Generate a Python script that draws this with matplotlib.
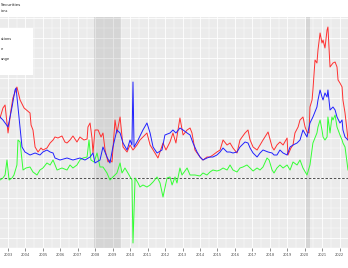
import matplotlib
matplotlib.use("Agg")
import matplotlib.pyplot as plt
from matplotlib.ticker import MultipleLocator
from matplotlib.patches import Rectangle

# ---- data (decimal year, value) ----
red_x = [2002.54,2002.71,2002.83,2003.00,2003.17,2003.28,2003.51,2003.69,2003.92,2004.26,2004.32,2004.43,2004.55,2004.72,2004.89,2005.00,2005.23,2005.41,2005.58,2005.69,2005.86,2006.09,2006.26,2006.38,2006.55,2006.72,2006.95,2007.12,2007.35,2007.53,2007.58,2007.70,2007.81,2007.87,2007.98,2008.16,2008.33,2008.44,2008.56,2008.73,2008.84,2008.96,2009.13,2009.24,2009.42,2009.59,2009.82,2009.99,2010.16,2010.39,2010.56,2010.73,2010.96,2011.14,2011.42,2011.59,2011.88,2012.05,2012.28,2012.45,2012.62,2012.85,2013.03,2013.26,2013.43,2013.54,2013.71,2014.00,2014.17,2014.40,2014.57,2014.74,2014.97,2015.15,2015.32,2015.55,2015.72,2015.89,2016.12,2016.29,2016.58,2016.75,2016.87,2017.04,2017.27,2017.44,2017.61,2017.90,2018.13,2018.24,2018.41,2018.58,2018.76,2018.99,2019.04,2019.21,2019.33,2019.44,2019.62,2019.73,2019.90,2020.02,2020.13,2020.25,2020.30,2020.42,2020.47,2020.59,2020.70,2020.76,2020.88,2020.99,2021.05,2021.16,2021.28,2021.33,2021.45,2021.62,2021.74,2021.85,2021.91,2022.02,2022.14,2022.19,2022.31,2022.42,2022.48]
red_y = [6.0,7.0,7.3,4.5,6.8,8.0,9.1,7.8,7.0,6.5,5.3,4.8,3.1,2.6,3.0,2.8,3.0,3.5,3.8,4.1,4.0,4.2,3.6,3.5,3.8,4.2,3.6,4.1,3.8,3.9,5.1,5.5,4.0,2.5,4.8,4.8,4.1,4.5,2.8,1.6,1.8,1.6,5.8,4.5,6.1,3.1,2.6,3.3,2.8,3.3,3.8,4.1,4.5,3.3,2.5,2.0,3.5,2.8,3.6,4.5,3.5,6.0,4.3,4.8,5.0,4.5,2.8,2.1,1.8,2.1,2.1,2.3,2.6,2.8,3.8,3.3,3.5,3.0,2.5,3.8,4.5,4.8,3.8,3.1,2.8,3.3,3.8,4.6,3.1,2.8,3.3,3.6,3.3,4.0,2.3,3.0,3.3,4.5,5.1,5.8,6.1,5.1,4.6,4.5,7.1,7.8,8.8,11.8,11.5,12.8,14.5,13.5,13.8,13.0,14.8,15.1,11.1,11.5,11.6,11.1,9.8,9.5,9.1,7.8,6.5,4.8,3.8]

blue_x = [2002.54,2002.71,2003.00,2003.23,2003.40,2003.46,2003.57,2003.80,2003.97,2004.26,2004.55,2004.83,2005.00,2005.23,2005.41,2005.58,2005.69,2005.98,2006.38,2006.72,2007.12,2007.41,2007.70,2007.87,2007.98,2008.27,2008.44,2008.67,2008.84,2009.01,2009.24,2009.42,2009.59,2009.82,2009.99,2010.10,2010.16,2010.22,2010.45,2010.73,2010.96,2011.14,2011.31,2011.54,2011.82,2011.99,2012.28,2012.45,2012.62,2012.85,2013.03,2013.26,2013.43,2013.60,2013.83,2014.00,2014.17,2014.40,2014.57,2014.74,2014.97,2015.15,2015.32,2015.55,2015.72,2015.89,2016.12,2016.29,2016.58,2016.75,2016.87,2017.04,2017.27,2017.44,2017.61,2017.90,2018.13,2018.24,2018.41,2018.58,2018.76,2018.99,2019.16,2019.33,2019.56,2019.73,2019.90,2020.13,2020.30,2020.47,2020.70,2020.76,2020.88,2020.99,2021.05,2021.16,2021.28,2021.33,2021.45,2021.62,2021.74,2021.85,2022.02,2022.14,2022.19,2022.31,2022.48]
blue_y = [6.1,5.8,5.1,7.1,8.8,9.0,7.1,3.1,2.6,2.3,2.5,2.3,2.6,2.8,2.6,2.5,2.0,1.8,2.0,1.8,2.0,1.8,2.1,2.5,1.5,1.8,3.1,2.1,1.5,3.1,4.8,4.5,3.5,2.8,3.8,3.3,9.6,3.1,3.8,4.8,5.5,4.5,3.1,2.5,2.8,4.3,4.5,4.8,4.5,5.0,4.8,4.5,4.3,3.5,2.6,2.1,1.8,2.0,2.1,2.1,2.3,2.6,3.0,2.6,2.6,2.5,2.6,3.1,3.6,3.5,3.0,2.5,2.1,2.5,2.8,2.6,2.5,2.3,2.3,2.8,2.5,2.3,3.1,3.3,3.5,3.8,4.8,4.1,5.5,6.1,7.1,7.8,8.8,8.1,7.8,8.5,8.1,8.8,6.8,7.1,6.8,6.1,5.5,5.8,4.8,4.1,3.8]

green_x = [2002.54,2002.71,2002.83,2002.94,2003.06,2003.23,2003.34,2003.51,2003.57,2003.69,2003.86,2004.03,2004.26,2004.43,2004.66,2004.83,2005.00,2005.23,2005.41,2005.58,2005.81,2006.09,2006.38,2006.55,2006.72,2006.95,2007.12,2007.30,2007.53,2007.64,2007.75,2007.93,2008.10,2008.27,2008.44,2008.67,2008.84,2009.01,2009.24,2009.42,2009.53,2009.70,2009.87,2010.10,2010.16,2010.28,2010.45,2010.56,2010.73,2010.96,2011.14,2011.31,2011.54,2011.71,2011.88,2012.11,2012.28,2012.40,2012.57,2012.68,2012.85,2012.97,2013.26,2013.43,2013.71,2014.00,2014.17,2014.40,2014.57,2014.74,2014.97,2015.15,2015.32,2015.55,2015.72,2015.89,2016.12,2016.29,2016.46,2016.69,2016.87,2017.04,2017.27,2017.44,2017.61,2017.84,2017.96,2018.13,2018.24,2018.41,2018.58,2018.76,2018.99,2019.16,2019.33,2019.56,2019.73,2019.90,2020.13,2020.30,2020.47,2020.70,2020.76,2020.88,2020.99,2021.05,2021.16,2021.28,2021.33,2021.45,2021.56,2021.62,2021.74,2021.85,2022.02,2022.14,2022.19,2022.31,2022.48]
green_y = [-0.2,0.0,0.3,1.8,-0.2,0.0,0.3,1.3,3.8,3.6,0.8,1.0,1.1,0.6,0.3,0.8,1.0,1.5,1.3,1.8,0.8,1.0,0.8,1.3,1.0,1.3,1.8,2.0,2.1,3.8,1.8,1.6,2.5,1.1,1.1,0.5,-0.2,0.1,0.5,1.5,0.5,1.0,0.5,-0.2,-6.5,0.0,-0.5,-0.9,-0.7,-0.9,-0.7,-0.4,0.1,-0.5,-1.9,0.0,0.1,-0.7,0.1,-0.5,1.0,0.3,1.0,0.3,0.3,0.2,0.5,0.3,0.6,0.8,0.7,0.8,1.0,0.8,1.3,0.8,0.6,1.0,1.1,1.3,1.0,0.7,1.0,0.8,1.1,2.0,1.8,0.8,0.5,1.0,1.3,1.0,1.3,0.8,1.6,1.3,1.8,1.0,0.3,1.3,3.5,4.5,5.1,5.8,4.8,4.1,3.8,4.1,6.1,4.5,6.1,5.8,6.3,5.1,4.3,3.8,3.5,3.1,0.8]

recessions = [(2007.92, 2009.50), (2020.08, 2020.33)]
years = list(range(2003, 2023))
year_labels = [str(y) for y in years]
# only the parts of the texts that are visible in the (cropped) reference
labels = ["ations", "e", "ange"]
title = "Securities"
subtitle = "ions"

W, H = 348, 268
fig = plt.figure(figsize=(W / 100, H / 100), dpi=100)
fig.patch.set_facecolor("white")
ax = fig.add_axes([0, 20 / H, 1, 231 / H])
ax.set_facecolor("#ebebeb")
for s in ax.spines.values():
    s.set_visible(False)

ax.set_xlim(2002.54, 2022.48)
ax.set_ylim(-7.0, 16.1)
ax.xaxis.set_major_locator(plt.FixedLocator(years))
ax.xaxis.set_minor_locator(MultipleLocator(0.5))
ax.yaxis.set_major_locator(MultipleLocator(2))
ax.yaxis.set_minor_locator(MultipleLocator(1))
ax.grid(which="major", color="white", lw=0.6)
ax.grid(which="minor", color="white", lw=0.3)
ax.set_axisbelow(True)
ax.set_xticks(years)
ax.set_xticklabels(year_labels, fontsize=2.6, color="#4d4d4d")
ax.tick_params(axis="x", which="major", length=2, width=0.4, color="#333333", pad=1.5)
ax.tick_params(axis="x", which="minor", length=0)
ax.tick_params(axis="y", which="both", length=0, labelleft=False)

for a, b in recessions:
    ax.axvspan(a, b, color="#000000", alpha=0.09, lw=0, zorder=1)

ax.axhline(0, color="#333333", lw=0.6, ls=(0, (3, 2)), zorder=2)
ax.plot(red_x, red_y, color="#ff3030", lw=0.7, zorder=3)
ax.plot(blue_x, blue_y, color="#2020ff", lw=0.7, zorder=4)
ax.plot(green_x, green_y, color="#33ff33", lw=0.7, zorder=3)

# title and subtitle
fig.text(1 / W, 1 - 5 / H, title, ha="left", va="center", fontsize=3.0, color="#222222")
fig.text(0.5 / W, 1 - 11.5 / H, subtitle, ha="left", va="center", fontsize=2.6, color="#222222")

# legend box
fig.patches.append(Rectangle((0, 1 - 75 / H), 33 / W, 47 / H, transform=fig.transFigure,
                             facecolor="white", edgecolor="none", zorder=5))
for lab, ye in zip(labels, [39, 49, 59]):
    fig.text(0.5 / W, 1 - ye / H, lab, ha="left", va="center", fontsize=2.6, color="#222222", zorder=6)

fig.savefig("out.png", dpi=100)
